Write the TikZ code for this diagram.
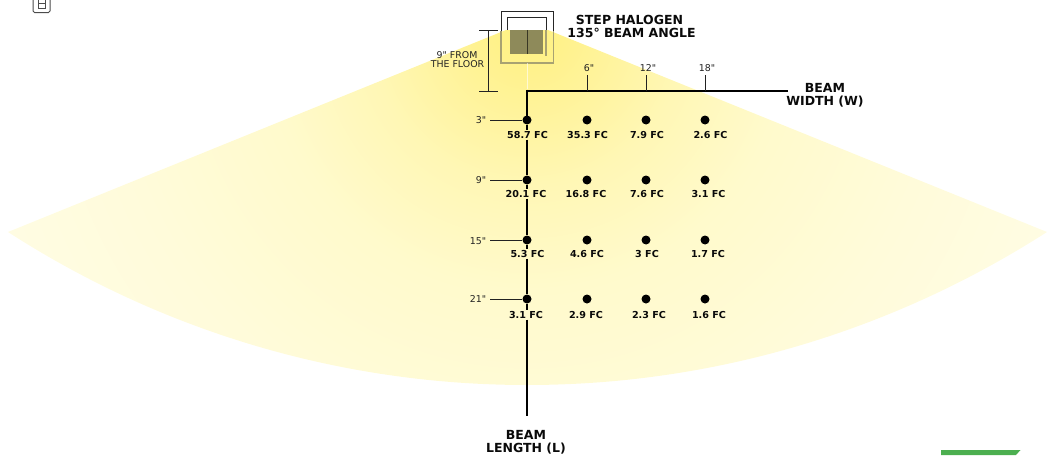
\documentclass[tikz,border=0pt]{standalone}
\usepackage{fontspec}
\setmainfont{DejaVu Sans}
\newfontfamily\tkfont{DejaVu Sans}
\usetikzlibrary{calc}
\definecolor{ink}{HTML}{0A0A0A}
\definecolor{thin}{HTML}{222222}
\definecolor{fa}{HTML}{FFF17F}
\definecolor{fb}{HTML}{FFF39A}
\definecolor{fc}{HTML}{FFF7B5}
\definecolor{fd}{HTML}{FFFACC}
\definecolor{fe}{HTML}{FFFBDA}
\definecolor{ff}{HTML}{FFFDE8}
\definecolor{lampblock}{HTML}{8E8A5A}
\definecolor{lamptan}{HTML}{A8A272}
\definecolor{barg}{HTML}{4CAF50}
\pgfdeclareradialshading{beamfade}{\pgfpoint{0bp}{0bp}}{
  color(0bp)=(fa);
  color(3bp)=(fb);
  color(6bp)=(fc);
  color(10bp)=(fd);
  color(16bp)=(fe);
  color(25bp)=(ff);
  color(50bp)=(ff)}
\tikzset{
  x=1pt,y=-1pt,
  fcl/.style={font=\bfseries\fontsize{9.6}{10}\selectfont,inner sep=0pt,text=ink,minimum height=9pt},
  hd/.style={font=\bfseries\fontsize{12.5}{11}\selectfont,inner sep=0pt,text=ink},
  tk/.style={font=\tkfont\fontsize{9.4}{9}\selectfont,inner sep=0pt,text=thin},
  dotn/.style={circle,fill=black,inner sep=0pt,minimum size=9pt},
  axisl/.style={draw=black,line width=2.8pt},
  tickl/.style={draw=thin,line width=1pt},
}
\begin{document}
\begin{tikzpicture}
\useasboundingbox (0,0) rectangle (1049,455);
% beam
\begin{scope}
\clip (8,232) .. controls (163,332) and (342,385) .. (527,385)
      .. controls (712,385) and (891,332) .. (1047,232) -- (548,30) -- (506,30) -- cycle;
\node[inner sep=0pt,minimum size=1300pt,circle,shading=beamfade] at (527,30) {};
\end{scope}
% corner items
\draw[draw=black!70,line width=1pt,rounded corners=1.5pt] (33,0) -- (33,12.5) -- (50,12.5) -- (50,0);
\draw[draw=black!70,line width=.8pt] (38,0) -- (38,8) -- (45,8) -- (45,0) (38,3) -- (45,3);
\fill[barg] (941,450) -- (1020.5,450) -- (1016,455) -- (941,455) -- cycle;
% lamp
\draw[draw=black!85,line width=.9pt] (501,31) -- (501,11) -- (553,11) -- (553,31);
\draw[draw=black!85,line width=.9pt] (507.5,30) -- (507.5,17.5) -- (546.5,17.5) -- (546.5,30);
\draw[draw=lamptan,line width=1.5pt] (501,31) -- (501,63) -- (553.5,63) -- (553.5,31);
\fill[fill=lampblock] (510,30) rectangle (543,54);
\draw[draw=lamptan,line width=1.5pt] (546,30) -- (546,56);
\draw[draw=black!60!lampblock,line width=.9pt] (527,30) -- (527,54);
\draw[draw=white,line width=.6pt,opacity=.6] (527,63) -- (527,89);
% floor dimension
\coordinate (dt) at (488,30);
\coordinate (db) at (488,91);
\draw[draw=thin,line width=.9pt] (dt) -- (db) (479,30) -- (498,30) (479,91) -- (498,91);
\node[tk] (floora) at (457,55.5) {9" FROM};
\node[tk] (floorb) at (457.5,64.5) {THE FLOOR};
% title
\node[hd] (tita) at (629.5,20) {STEP HALOGEN};
\node[hd] (titb) at (631.5,33) {135° BEAM ANGLE};
% axes
\coordinate (org) at (527,91);
\coordinate (wend) at (788,91);
\coordinate (lend) at (527,415.5);
\draw[axisl] (wend) -- (org) -- (527,120);
% dots
\foreach \n/\x/\y in {a1/527/120,a2/587/120,a3/646/120,a4/705/120,
 b1/527/180,b2/587/180,b3/646/180,b4/705/180,
 c1/527/240,c2/587/240,c3/646/240,c4/705/240,
 d1/527/299,d2/587/299,d3/646/299,d4/705/299}
  \node[dotn] (\n) at (\x,\y) {};
% FC labels
\foreach \n/\x/\y/\t in {la1/527.5/135/58.7 FC,la2/587.5/135/35.3 FC,la3/647/135/7.9 FC,la4/710.5/135/2.6 FC,
 lb1/526/194/20.1 FC,lb2/586/194/16.8 FC,lb3/647/194/7.6 FC,lb4/708.5/194/3.1 FC,
 lc1/527.5/254/5.3 FC,lc2/587/254/4.6 FC,lc3/647/254/3 FC,lc4/708/254/1.7 FC,
 ld1/526/315/3.1 FC,ld2/586/315/2.9 FC,ld3/649/315/2.3 FC,ld4/709/315/1.6 FC}
  \node[fcl] (\n) at (\x,\y) {\t};
% vertical axis segments broken by labels
\draw[axisl] (a1) -- (a1 |- la1.north);
\draw[axisl] (b1 |- la1.south) -- (b1) -- (b1 |- lb1.north);
\draw[axisl] (b1 |- lb1.south) -- (c1) -- (c1 |- lc1.north);
\draw[axisl] (c1 |- lc1.south) -- (d1) -- (d1 |- ld1.north);
\draw[axisl] (d1 |- ld1.south) -- (lend);
% width ticks
\foreach \n/\x/\t in {t6/587/6",t12/646/12",t18/705/18"}{
  \node[tk] (\n) at (\x+2,68) {\t};
  \coordinate (\n f) at (\x,75);
  \draw[tickl] (\n f) -- (\x,91);
}
% length ticks
\foreach \n/\x/\y/\yy/\t/\d in {s3/481/120/120/3"/a1,s9/481/180/180/9"/b1,s15/478/241/240/15"/c1,s21/478/299/299/21"/d1}{
  \node[tk] (\n) at (\x,\y) {\t};
  \coordinate (\n f) at (490,\yy);
  \draw[tickl] (\n f) -- (\d);
}
% axis names
\node[hd] (wa) at (825,88) {BEAM};
\node[hd] (wb) at (825,102) {WIDTH (W)};
\node[hd] (la) at (526,435) {BEAM};
\node[hd] (lb) at (526,449) {LENGTH (L)};
\end{tikzpicture}
\end{document}
